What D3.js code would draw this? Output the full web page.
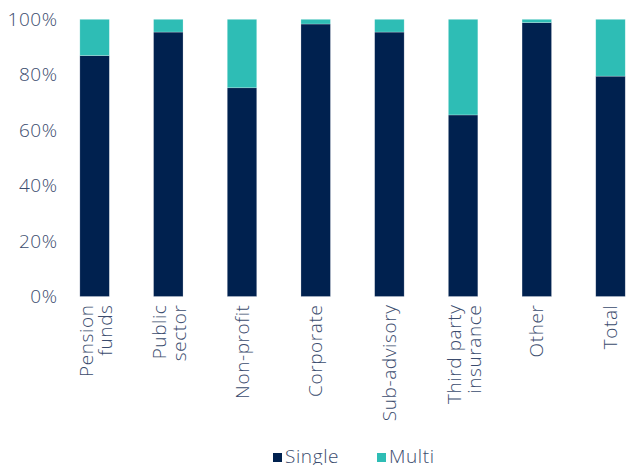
<!DOCTYPE html>
<html lang="en">
  <head>
    <meta charset="utf-8">
    <title>Single vs Multi by client type</title>
    <script src="https://cdnjs.cloudflare.com/ajax/libs/d3/7.8.5/d3.min.js"></script>
    <style>
      body { margin: 0; background: #fff; }
      text { font-family: "Open Sans", Roboto, sans-serif; font-weight: 300; fill: #3b4c6e; letter-spacing: 0.6px; }
    </style>
  </head>
  <body>
    <div class="chart"></div>
    <script>
      // data
      var categories = [["Pension", "funds"], ["Public", "sector"], ["Non-profit"], ["Corporate"],
                        ["Sub-advisory"], ["Third party", "insurance"], ["Other"], ["Total"]];
      var single = [86.9, 95.4, 75.3, 98.3, 95.4, 65.5, 98.8, 79.5];
      var multi = single.map(d => 100 - d);
      var yTicks = [0, 20, 40, 60, 80, 100];
      var seriesNames = ["Single", "Multi"];
      var colors = ["#00214f", "#2ebdb5"];

      var svgWidth = 626, svgHeight = 465;
      var margin = { top: 19.3, left: 57.75, bottom: 168.5 };
      var height = svgHeight - margin.top - margin.bottom;
      var fontSize = 19;

      var svg = d3.select(".chart").append("svg")
        .attr("width", svgWidth)
        .attr("height", svgHeight);

      var chartGroup = svg.append("g")
        .attr("transform", `translate(${margin.left}, ${margin.top})`);

      var keys = categories.map(c => c.join(" "));
      var x = d3.scaleBand().domain(keys).range([0, 8 * 73.7]).paddingInner(0.6).paddingOuter(0.3);
      var y = d3.scaleLinear().domain([0, 100]).range([height, 0]);

      // stacked bars
      var rows = keys.map((k, i) => ({ key: k, Single: single[i], Multi: multi[i] }));
      var stack = d3.stack().keys(seriesNames)(rows);

      chartGroup.selectAll("g.series")
        .data(stack)
        .enter().append("g")
        .attr("fill", (d, i) => colors[i])
        .selectAll("rect")
        .data(d => d)
        .enter().append("rect")
        .attr("x", d => x(d.data.key))
        .attr("width", x.bandwidth())
        .attr("y", d => y(d[1]))
        .attr("height", d => y(d[0]) - y(d[1]))
        .attr("stroke", "#fff")
        .attr("stroke-opacity", 0.4)
        .attr("stroke-width", 0.6);

      // y axis
      var leftAxis = d3.axisLeft(y).tickValues(yTicks).tickFormat(d => d + "%").tickSize(0).tickPadding(0);
      var yAxis = chartGroup.append("g").call(leftAxis);
      yAxis.select(".domain").remove();
      yAxis.selectAll("text").attr("font-size", fontSize).attr("fill", "#3b4c6e").attr("font-family", null);

      // x labels, rotated
      var xLabels = chartGroup.selectAll("text.xlab")
        .data(categories)
        .enter().append("text")
        .attr("class", "xlab")
        .attr("font-size", fontSize)
        .attr("text-anchor", "end")
        .attr("transform", (d, i) => `translate(${x(keys[i]) + x.bandwidth() / 2}, ${height + 8}) rotate(-90)`);

      xLabels.selectAll("tspan")
        .data(d => d.map((t, j) => ({ t: t, off: d.length === 1 ? 0 : (j === 0 ? -8.5 : 11) })))
        .enter().append("tspan")
        .attr("x", 0)
        .attr("y", d => d.off)
        .attr("dy", "0.35em")
        .text(d => d.t);

      // legend
      var legendX = [273, 377];
      var legend = svg.selectAll("g.legend")
        .data(seriesNames)
        .enter().append("g")
        .attr("transform", (d, i) => `translate(${legendX[i]}, 453)`);
      legend.append("rect").attr("width", 9).attr("height", 9).attr("fill", (d, i) => colors[i]);
      legend.append("text").attr("x", 12).attr("y", 10).attr("font-size", fontSize).text(d => d);
    </script>
  </body>
</html>
